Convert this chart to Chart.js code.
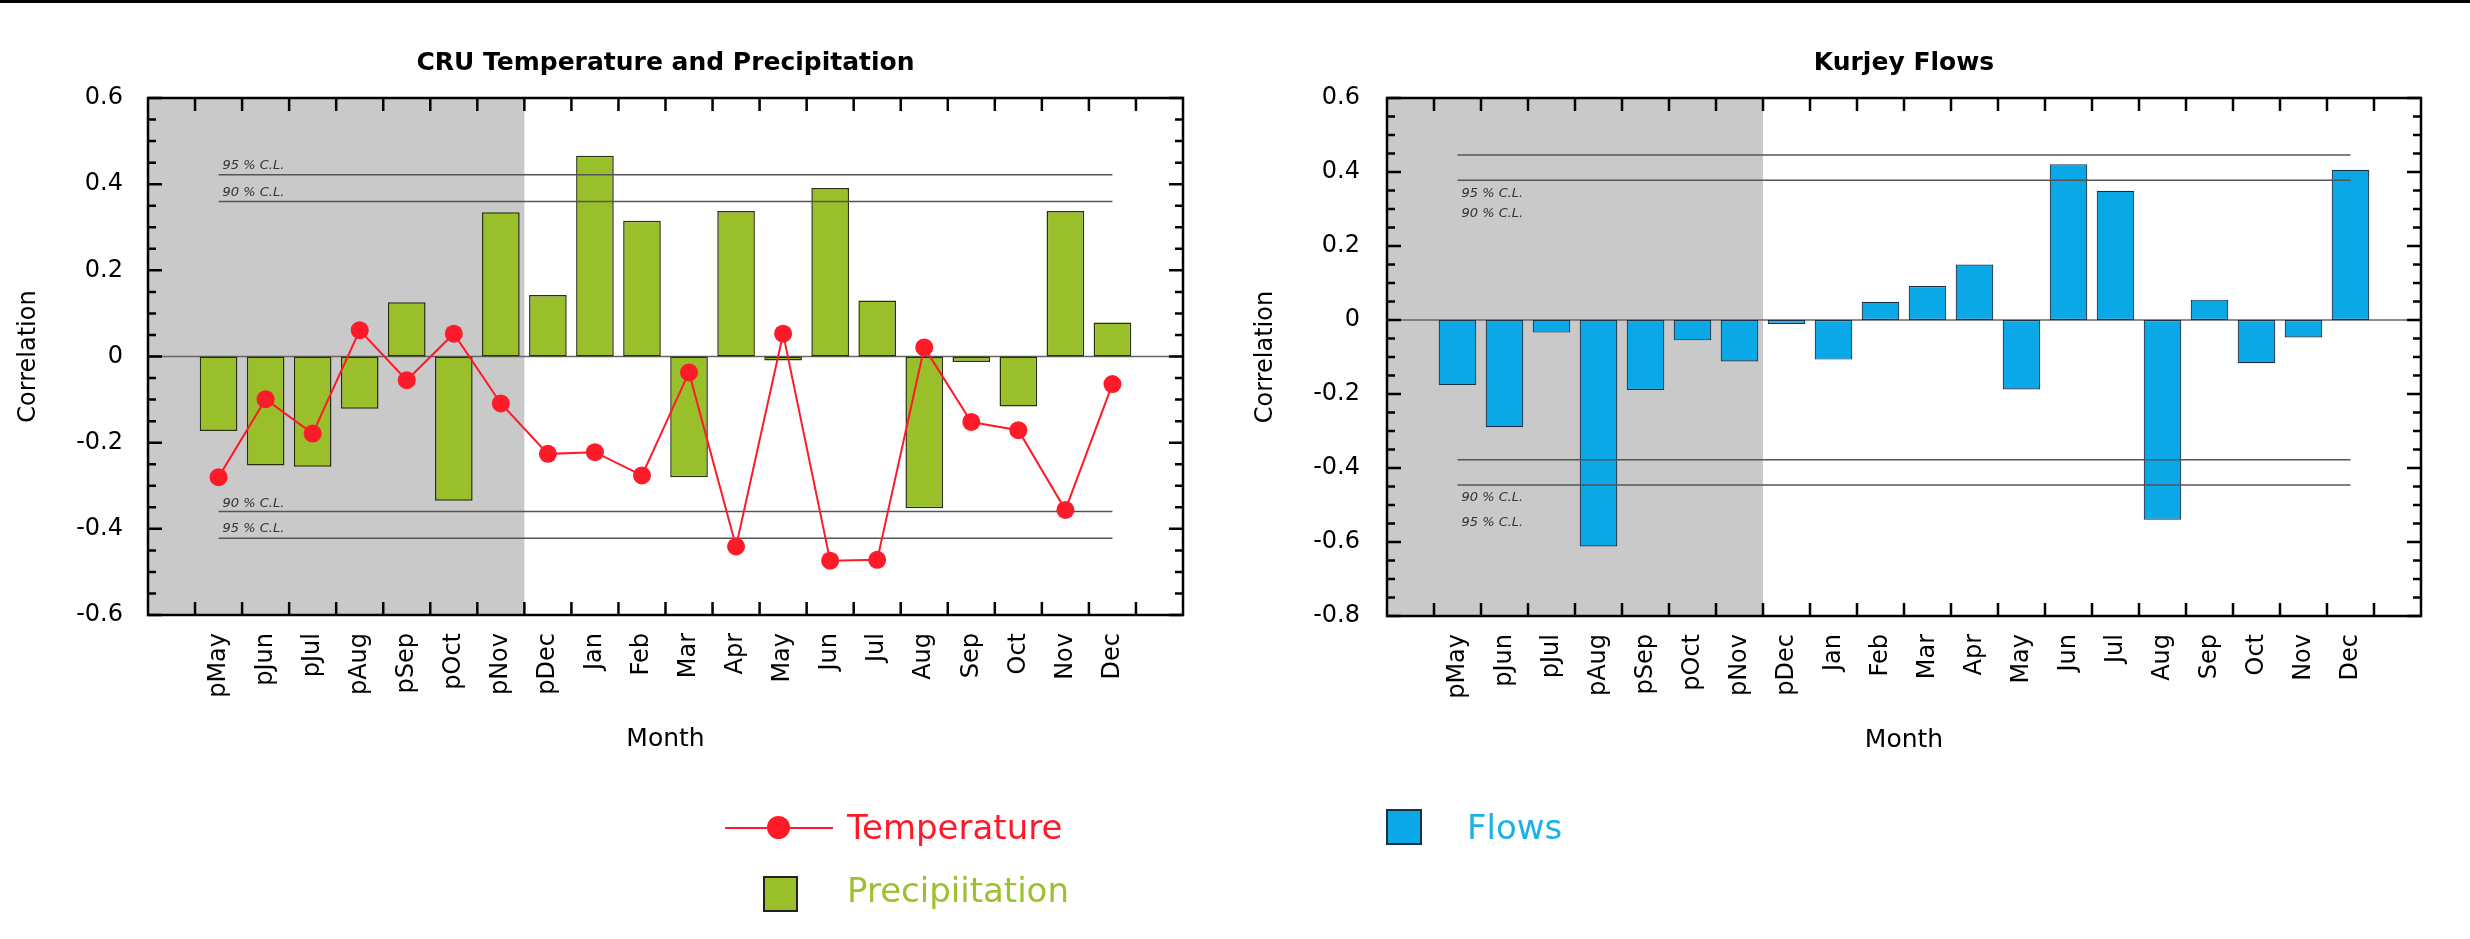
<!DOCTYPE html>
<html>
<head>
<meta charset="utf-8">
<script src="https://cdn.jsdelivr.net/npm/chart.js@4.4.1/dist/chart.umd.min.js"></script>
<style>
  html, body { margin: 0; padding: 0; background: #fff; }
  body { width: 2470px; height: 939px; position: relative; overflow: hidden; font-family: 'DejaVu Sans', sans-serif; }
  #topRule { position: absolute; left: 0; top: 0; width: 2470px; height: 3px; background: #000; }
  canvas { position: absolute; top: 0; }
  .lg { position: absolute; }
  .lgText { position: absolute; font-size: 34px; line-height: 40px; white-space: nowrap; }
</style>
</head>
<body>
<div id="topRule"></div>
<canvas id="cru" width="1235" height="939" style="left:0"></canvas>
<canvas id="flow" width="1235" height="939" style="left:1235px"></canvas>

<!-- legend: temperature / precipitation -->
<div class="lg" style="left:725px;top:827px;width:108px;height:2px;background:#ff1a2a"></div>
<div class="lg" style="left:767px;top:816px;width:23px;height:23px;border-radius:50%;background:#ff1a2a"></div>
<div class="lgText" style="left:847px;top:807px;color:#ff1a2a">Temperature</div>
<div class="lg" style="left:763px;top:876px;width:35px;height:36px;box-sizing:border-box;border:2px solid #222;background:#99bf2a"></div>
<div class="lgText" style="left:847px;top:870px;color:#9cc030">Precipiitation</div>

<!-- legend: flows -->
<div class="lg" style="left:1386px;top:809px;width:36px;height:36px;box-sizing:border-box;border:2px solid #1c2f45;background:#0aa8e6"></div>
<div class="lgText" style="left:1467px;top:807px;color:#1ab0ea">Flows</div>

<script>
// Month sequence: previous-year months (p…) then current year
const months = ['pMay','pJun','pJul','pAug','pSep','pOct','pNov','pDec','Jan','Feb','Mar','Apr','May','Jun','Jul','Aug','Sep','Oct','Nov','Dec'];

// CRU correlations
const precipitation = [-0.173, -0.253, -0.256, -0.121, 0.126, -0.335, 0.335, 0.143, 0.466, 0.315, -0.280, 0.338, -0.009, 0.391, 0.130, -0.352, -0.013, -0.116, 0.338, 0.079];
const temperature   = [-0.280, -0.099, -0.179, 0.061, -0.055, 0.053, -0.109, -0.226, -0.222, -0.276, -0.037, -0.441, 0.053, -0.474, -0.472, 0.021, -0.152, -0.171, -0.356, -0.064];

// Kurjey flow correlations
const flows = [-0.176, -0.290, -0.034, -0.612, -0.189, -0.055, -0.112, -0.011, -0.107, 0.049, 0.092, 0.150, -0.188, 0.421, 0.349, -0.540, 0.055, -0.117, -0.047, 0.406];

// Confidence limits
const cruCL90 = 0.36, cruCL95 = 0.422;
const flowCL90 = 0.378, flowCL95 = 0.446;

// Axis ranges
const cruRange = [-0.6, 0.6];
const flowRange = [-0.8, 0.6];

// One blank slot on each side of the month categories
const labels = ['', ...months, ''];
const pad = arr => [null, ...arr, null];
const clLine = v => [{x: months[0], y: v}, {x: months[months.length - 1], y: v}];

Chart.defaults.font.family = "'DejaVu Sans', sans-serif";
Chart.defaults.color = '#000';

// Shaded previous-year block, zero line, frame with inward ticks, C.L. captions
const framePlugin = {
  id: 'frame',
  beforeDatasetsDraw(chart, args, o) {
    const {ctx, chartArea: a, scales: {x, y}} = chart;
    const last = months.indexOf('pNov') + 1;
    const edge = (x.getPixelForValue(last) + x.getPixelForValue(last + 1)) / 2;
    ctx.save();
    ctx.fillStyle = '#c9c9c9';
    ctx.fillRect(a.left, a.top, edge - a.left, a.bottom - a.top);
    const y0 = y.getPixelForValue(0);
    ctx.strokeStyle = '#666';
    ctx.lineWidth = 1.5;
    ctx.beginPath(); ctx.moveTo(a.left, y0); ctx.lineTo(a.right, y0); ctx.stroke();
    ctx.restore();
  },
  afterDatasetsDraw(chart, args, o) {
    const {ctx, chartArea: a, scales: {x, y}} = chart;
    ctx.save();
    // C.L. captions
    ctx.font = "italic 13px 'DejaVu Sans'";
    ctx.fillStyle = '#333';
    ctx.textBaseline = 'middle';
    ctx.textAlign = 'left';
    const lx = x.getPixelForValue(1) + 4;
    for (const c of o.captions) {
      ctx.fillText(c.text, lx, y.getPixelForValue(c.at) + c.dy);
    }
    // frame
    ctx.strokeStyle = '#000';
    ctx.lineWidth = 2.5;
    ctx.strokeRect(a.left, a.top, a.right - a.left, a.bottom - a.top);
    // y ticks (both sides, inward)
    ctx.lineWidth = 2.5;
    ctx.beginPath();
    const k0 = Math.round(y.min / 0.05), k1 = Math.round(y.max / 0.05);
    for (let k = k0; k <= k1; k++) {
      const py = y.getPixelForValue(k * 0.05);
      const len = (k % 4 === 0) ? 14 : 8;
      ctx.moveTo(a.left, py); ctx.lineTo(a.left + len, py);
      ctx.moveTo(a.right, py); ctx.lineTo(a.right - len, py);
    }
    // x ticks at category boundaries (top and bottom, inward)
    for (let i = 0; i < labels.length - 1; i++) {
      const px = (x.getPixelForValue(i) + x.getPixelForValue(i + 1)) / 2;
      ctx.moveTo(px, a.top); ctx.lineTo(px, a.top + 13);
      ctx.moveTo(px, a.bottom); ctx.lineTo(px, a.bottom - 13);
    }
    ctx.stroke();
    ctx.restore();
  }
};

function baseOptions(title, range, yWidth, yLabelPad, yTitlePad, right, xHeight, bottomPad, xTitlePad, captions) {
  return {
    responsive: false,
    animation: false,
    layout: { padding: { left: 0, right: right, top: 0, bottom: bottomPad } },
    plugins: {
      legend: { display: false },
      tooltip: { enabled: false },
      title: {
        display: true, text: title, fullSize: false,
        font: { size: 25, weight: 'bold' }, color: '#000',
        padding: { top: 48, bottom: 20 }
      },
      frame: { captions: captions }
    },
    scales: {
      x: {
        type: 'category',
        offset: true,
        grid: { display: false, drawTicks: false },
        border: { display: false },
        ticks: { autoSkip: false, maxRotation: 90, minRotation: 90, padding: 18, font: { size: 24 }, color: '#000' },
        title: { display: true, text: 'Month', font: { size: 25 }, color: '#000', padding: { top: 0, bottom: xTitlePad } },
        afterFit: s => { s.height = xHeight; }
      },
      y: {
        min: range[0], max: range[1],
        grid: { display: false, drawTicks: false },
        border: { display: false },
        ticks: {
          stepSize: 0.2, padding: yLabelPad, font: { size: 24 }, color: '#000',
          callback: v => Math.abs(v) < 1e-9 ? '0' : v.toFixed(1)
        },
        title: { display: true, text: 'Correlation', font: { size: 24 }, color: '#000', padding: { top: yTitlePad, bottom: 0 } },
        afterFit: s => { s.width = yWidth; }
      }
    }
  };
}

const clStyle = { type: 'line', borderColor: '#555', borderWidth: 1.5, pointRadius: 0, fill: false, order: 1 };

new Chart(document.getElementById('cru'), {
  data: {
    labels: labels,
    datasets: [
      { type: 'line', label: 'Temperature', data: pad(temperature), borderColor: '#ff1a2a', backgroundColor: '#ff1a2a',
        borderWidth: 2, pointRadius: 9, pointBorderWidth: 0, pointBackgroundColor: '#ff1a2a', spanGaps: false, order: 0 },
      { ...clStyle, label: '95 % C.L.', data: clLine(cruCL95) },
      { ...clStyle, label: '90 % C.L.', data: clLine(cruCL90) },
      { ...clStyle, label: '90 % C.L.', data: clLine(-cruCL90) },
      { ...clStyle, label: '95 % C.L.', data: clLine(-cruCL95) },
      { type: 'bar', label: 'Precipiitation', data: pad(precipitation), backgroundColor: '#99bf2a', borderColor: '#2a2e14',
        borderWidth: 1.5, borderSkipped: false, barPercentage: 0.8, categoryPercentage: 1, order: 2 }
    ]
  },
  options: baseOptions('CRU Temperature and Precipitation', cruRange, 148, 25, 14, 52, 160, 164, 21, [
    { text: '95 % C.L.', at: cruCL95, dy: -9 },
    { text: '90 % C.L.', at: cruCL90, dy: -9 },
    { text: '90 % C.L.', at: -cruCL90, dy: -8 },
    { text: '95 % C.L.', at: -cruCL95, dy: -10 }
  ]),
  plugins: [framePlugin]
});

new Chart(document.getElementById('flow'), {
  data: {
    labels: labels,
    datasets: [
      { ...clStyle, label: '95 % C.L.', data: clLine(flowCL95) },
      { ...clStyle, label: '90 % C.L.', data: clLine(flowCL90) },
      { ...clStyle, label: '90 % C.L.', data: clLine(-flowCL90) },
      { ...clStyle, label: '95 % C.L.', data: clLine(-flowCL95) },
      { type: 'bar', label: 'Flows', data: pad(flows), backgroundColor: '#0aa8e6', borderColor: '#1c2f45',
        borderWidth: 1.2, borderSkipped: false, barPercentage: 0.8, categoryPercentage: 1, order: 2 }
    ]
  },
  options: baseOptions('Kurjey Flows', flowRange, 152, 27, 16, 49, 161, 162, 22, [
    { text: '95 % C.L.', at: flowCL90, dy: 13 },
    { text: '90 % C.L.', at: flowCL90, dy: 33 },
    { text: '90 % C.L.', at: -flowCL95, dy: 13 },
    { text: '95 % C.L.', at: -flowCL95, dy: 38 }
  ]),
  plugins: [framePlugin]
});
</script>
</body>
</html>
